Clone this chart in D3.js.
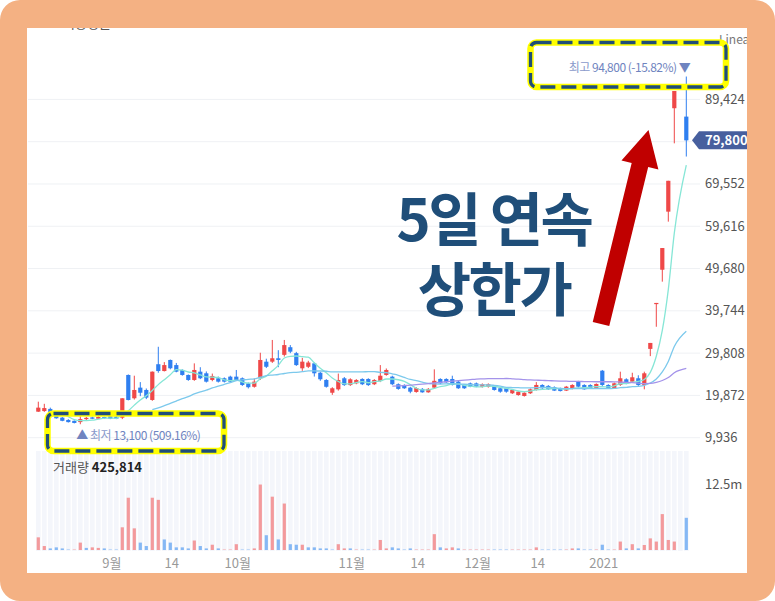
<!DOCTYPE html>
<html><head><meta charset="utf-8">
<script src="https://cdn.jsdelivr.net/npm/d3@7"></script>
<style>html,body{margin:0;padding:0;background:#fff;}svg{display:block;font-family:"Noto Sans CJK KR","Noto Sans",sans-serif;}</style>
</head><body><svg id="c" width="775" height="601"></svg>
<script>
// ---------- DATA ----------
const dates = [
"08-13","08-14","08-18","08-19","08-20","08-21","08-24","08-25","08-26","08-27","08-28","08-31",
"09-01","09-02","09-03","09-04","09-07","09-08","09-09","09-10","09-11","09-14","09-15","09-16","09-17","09-18","09-21","09-22","09-23","09-24","09-25","09-28","09-29",
"10-05","10-06","10-07","10-08","10-12","10-13","10-14","10-15","10-16","10-19","10-20","10-21","10-22","10-23","10-26","10-27","10-28","10-29","10-30",
"11-02","11-03","11-04","11-05","11-06","11-09","11-10","11-11","11-12","11-13","11-16","11-17","11-18","11-19","11-20","11-23","11-24","11-25","11-26","11-27","11-30",
"12-01","12-02","12-03","12-04","12-07","12-08","12-09","12-10","12-11","12-14","12-15","12-16","12-17","12-18","12-21","12-22","12-23","12-24","12-28","12-29","12-30",
"01-04","01-05","01-06","01-07","01-08","01-11","01-12","01-13","01-14","01-15","01-18","01-19","01-20","01-21","01-22"];
const opens = [16050,16200,16700,15400,14650,14100,13900,13600,14300,14700,
14400,14800,15000,14900,14640,24675,19200,21700,21150,18800,
27200,25600,28200,27000,25850,24675,23500,25450,25070,23500,
23900,23900,24280,24280,23900,22700,21900,23900,27800,27800,
28600,29400,31200,29800,26240,26600,27400,25200,23500,20500,
21300,23900,22300,22700,23735,23735,22500,23265,24675,24280,
22500,22300,21700,20680,21400,20600,21700,23735,23735,23735,
23100,22300,22700,22700,21850,21850,22150,21550,21550,20375,
19960,19740,20375,21150,22325,22100,21800,21550,21000,21550,
23100,22325,22325,21550,25680,22325,21550,22325,23660,23100,
23900,22325,30800,41600,49400,63050,87350,null,85380];
const highs = [18400,17900,17000,15600,14800,14300,14000,15000,14800,14900,
15000,14900,15200,15100,19200,24800,24500,23000,21500,25500,
31300,27700,28300,27500,26000,24800,27400,26500,25500,25000,
24300,24100,24500,25850,24100,22900,23800,29900,28500,32900,
30500,32900,31700,30100,28700,28000,27600,25400,23700,21800,
25000,24200,23900,23700,23900,23900,23700,27000,26200,24500,
22700,22500,21900,21800,21600,21600,26000,23900,23900,24500,
23300,22500,22900,22900,22700,22700,22300,21700,21700,21300,
20900,20600,21500,23000,22500,22300,22000,21700,22100,22500,
23300,22500,22500,22700,25850,22500,22900,25450,23900,25200,
24600,25450,32200,41600,54500,70300,91400,null,94800];
const lows = [16000,16000,15300,14400,13800,13500,13300,13100,14100,14300,
14300,14400,14300,14300,14300,18700,18900,19700,19000,18600,
25200,25500,26000,25300,24500,23300,23300,23700,22900,23200,
22900,22900,22900,23300,22100,21500,21700,23500,26300,27500,
26500,29000,29800,26800,25650,26300,24300,23300,21700,20000,
21000,22100,22100,22500,22300,22100,22300,23000,24500,22300,
21200,21400,20375,20500,20500,20500,21500,22500,22800,22200,
21400,21400,21800,21800,21700,21700,21000,20500,20500,20200,
19800,19600,20200,21000,21400,21200,20900,20800,20900,21300,
21700,21200,21400,21400,22100,21400,21400,22100,22500,22900,
22100,21300,29100,36000,46600,60700,79100,null,76000];
const closes = [17000,16900,15500,14500,13900,13600,13400,14300,14600,14400,
14800,14500,14400,14400,19200,18800,21150,20500,19350,25450,
25600,27000,26250,25450,24675,23500,25850,23900,23100,24440,
23100,23100,23100,23500,22325,21800,23100,28200,26600,28600,
28200,31700,30150,27000,27800,27600,25070,23660,21900,21550,
23500,22300,23660,23500,22500,22300,23500,24500,25850,22500,
21400,21550,20750,21600,20600,21400,23300,22700,22950,22325,
21550,21550,21930,21930,22500,22500,21150,20750,20750,21150,
20740,20500,21300,22325,21550,21300,21000,20900,21930,22325,
21930,21300,21550,22560,22325,21550,22720,23900,22700,24130,
22325,25070,32200,41600,54500,70300,91400,null,79800];
// volume in millions of shares
const volumes = [2.4,0.75,0.3,0.5,0.3,0.2,0.2,1.4,0.4,0.5,
0.4,0.3,0.2,0.2,4.3,9.9,4.1,1.4,0.75,9.9,
9.5,2.0,1.4,0.5,0.5,0.3,1.8,0.75,0.3,1.0,
0.3,0.2,0.2,1.1,0.2,0.2,0.3,12.4,2.8,10.1,
2.0,8.8,1.1,1.0,1.0,0.5,0.5,0.3,0.3,0.2,
1.1,0.3,0.3,0.2,0.2,0.2,0.2,1.9,0.3,0.5,
0.3,0.15,0.3,0.15,0.15,0.15,3.0,0.5,0.3,0.5,
0.3,0.15,0.15,0.15,0.12,0.12,0.12,0.12,0.12,0.12,
0.12,0.15,0.15,0.5,0.12,0.12,0.12,0.12,0.15,0.3,
0.3,0.12,0.12,0.12,1.0,0.15,0.15,1.6,0.3,1.1,
0.3,0.95,2.2,1.6,6.8,1.9,1.6,null,6.1];
// volume bar direction as shown in the volume panel (1 = red/up, 0 = blue/down)
const volumeUp = [1,1,0,0,0,0,1,1,0,1,
1,0,0,0,1,1,1,0,0,1,
1,0,0,0,0,0,1,0,0,1,
0,1,1,1,0,0,1,1,0,1,
0,1,0,0,1,0,0,0,0,0,
1,1,0,1,0,0,1,1,1,0,
0,0,0,1,1,1,1,0,1,1,
0,1,1,1,1,1,0,0,0,1,
1,1,1,1,0,0,0,0,1,1,
0,0,0,1,0,0,1,1,0,1,
0,1,1,1,1,1,1,0,0];
const priceTicks = [9936,19872,29808,39744,49680,59616,69552,79488,89424];
const volumeTicks = [12.5];
const volumeTickLabels = ["12.5m"];
const tickDates = ["09-01","09-15","10-05","11-02","11-17","12-01","12-15","01-04"];
const tickLabels = ["9월","14","10월","11월","14","12월","14","2021"];
const maPeriods = [5,20,60];
const maColors = ["#86e6d6","#7cc9ec","#a493ea"];
const legendLabels = ["5","20","60","120"];
const legendColors = ["#5ccfc0","#4fb4d8","#8a6fe0","#f08a7a"];
const volumeLabel = "거래량", volumeValue = "425,814";
const headline = ["5일 연속","상한가"];

// ---------- STYLE ----------
const RED="#ef4848", BLUE="#2f7ff0", RED_V="#f39a9c", BLUE_V="#86b8f4";

const svg = d3.select("#c");
svg.append("rect").attr("width",775).attr("height",601).attr("fill","#fff");

const x = d3.scaleBand().domain(dates).range([35.3, 689.3]);
const cx = d => x(d) + x.bandwidth()/2;
const y = d3.scaleLinear().domain([9936, 89424]).range([437.7, 99.4]);
const yv = d3.scaleLinear().domain([0, 12.5]).range([550, 484]);

// MA legend (mostly hidden under frame)
const lg = svg.append("text").attr("x",63).attr("y",27.6).attr("font-size",13).attr("fill","#555");
lg.append("tspan").text("이동평균 ");
legendLabels.forEach((t,i)=>lg.append("tspan").attr("fill",legendColors[i]).text(t+" "));
svg.append("text").attr("x",719).attr("y",44).attr("font-size",12).attr("fill","#777").text("Linear");

const rows = dates.map((d,i)=>({d,i,o:opens[i],h:highs[i],l:lows[i],c:closes[i],v:volumes[i],up:volumeUp[i]}));
const valid = rows.filter(r=>r.c!=null);
const last = valid[valid.length-1];
const ty = y(last.c);

// grid
svg.append("g").selectAll("line").data(priceTicks).join("line")
  .attr("x1",28).attr("x2",700).attr("y1",d=>y(d)).attr("y2",d=>y(d))
  .attr("stroke","#eff1f4").attr("stroke-width",1);

// price axis labels (the one under the current-price tag is hidden)
svg.append("g").selectAll("text").data(priceTicks.filter(t=>Math.abs(y(t)-ty)>12)).join("text")
  .attr("x",705).attr("y",d=>y(d)+4.5).attr("font-size",13).attr("fill","#555")
  .text(d=>d3.format(",")(d));

// volume background stripes
svg.append("g").selectAll("rect").data(rows).join("rect")
  .attr("x",r=>x(r.d)+0.7).attr("width",x.bandwidth()-1.4)
  .attr("y",451).attr("height",100).attr("fill","#f4f6fb");

// volume bars
svg.append("g").selectAll("rect").data(valid).join("rect")
  .attr("x",r=>cx(r.d)-1.6).attr("width",3.2)
  .attr("y",r=>Math.min(yv(r.v), 549)).attr("height",r=>Math.max(550-yv(r.v),1))
  .attr("fill",r=>r.up?RED_V:BLUE_V)
  .attr("opacity",r=>r.v<0.25?0.45:1);

svg.append("g").selectAll("text").data(volumeTicks).join("text")
  .attr("x",705).attr("y",d=>yv(d)+4.5).attr("font-size",13).attr("fill","#555")
  .text((d,i)=>volumeTickLabels[i]);

const vt = svg.append("text").attr("x",53).attr("y",471.5).attr("font-size",13).attr("fill","#555");
vt.append("tspan").text(volumeLabel+" ");
vt.append("tspan").attr("fill","#222").attr("font-weight","bold").text(volumeValue);

// x axis labels
svg.append("g").selectAll("text").data(tickDates).join("text")
  .attr("x",d=>cx(d)+1.5).attr("y",567.5).attr("text-anchor","middle")
  .attr("font-size",13).attr("fill","#999").text((d,i)=>tickLabels[i]);

// candles
const cg = svg.append("g");
cg.selectAll("line").data(valid).join("line")
  .attr("x1",r=>cx(r.d)).attr("x2",r=>cx(r.d))
  .attr("y1",r=>y(r.h)).attr("y2",r=>y(r.l))
  .attr("stroke",r=>r.c>=r.o?RED:BLUE).attr("stroke-width",1);
cg.selectAll("rect").data(valid).join("rect")
  .attr("x",r=>cx(r.d)-2.1).attr("width",4.2)
  .attr("y",r=>y(Math.max(r.o,r.c)))
  .attr("height",r=>Math.max(Math.abs(y(r.o)-y(r.c)),1.2))
  .attr("fill",r=>r.c>=r.o?RED:BLUE);

// moving averages over n trading slots (a halted day has no close)
function movingAvg(n){
  const out=[];
  rows.forEach((r,i)=>{
    if(r.c==null || i<n-1) return;
    out.push({d:r.d, v:d3.mean(closes.slice(i-n+1,i+1))});
  });
  return out;
}
const line = d3.line().x(p=>cx(p.d)).y(p=>y(p.v)).curve(d3.curveMonotoneX);
maPeriods.forEach((n,k)=>{
  svg.append("path").datum(movingAvg(n)).attr("d",line)
    .attr("fill","none").attr("stroke",maColors[k]).attr("stroke-width",1.3);
});

// current price tag
svg.append("path").attr("d",`M692,${ty} L699,${ty-9} H750 V${ty+9} H699 Z`).attr("fill","#475f9e");
svg.append("text").attr("x",705).attr("y",ty+4.6).attr("font-size",13).attr("font-weight","bold")
  .attr("fill","#fff").text(d3.format(",")(last.c));

// high / low annotations
const hiRow = valid.reduce((a,b)=>b.h>a.h?b:a);
const loRow = valid.reduce((a,b)=>b.l<a.l?b:a);
function box(x0,y0,w,h){
  svg.append("rect").attr("x",x0).attr("y",y0).attr("width",w).attr("height",h).attr("rx",6)
    .attr("fill","none").attr("stroke","#ffff00").attr("stroke-width",6.5);
  svg.append("rect").attr("x",x0).attr("y",y0).attr("width",w).attr("height",h).attr("rx",6)
    .attr("fill","none").attr("stroke","#1f4e79").attr("stroke-width",3.3).attr("stroke-dasharray","15 6");
}
box(530.5,42.5,195.5,44.5);
box(47.5,413.5,176.5,37.5);
const hiPct = ((last.c/hiRow.h-1)*100).toFixed(2);
const loPct = ((last.c/loRow.l-1)*100).toFixed(2);
const ht = svg.append("text").attr("x",cx(hiRow.d)+4).attr("y",72).attr("text-anchor","end")
  .attr("font-size",12).attr("letter-spacing",-0.5).attr("fill","#6f84c0");
ht.append("tspan").attr("fill","#8a9acb").text("최고 ");
ht.append("tspan").text(`${d3.format(",")(hiRow.h)} (${hiPct}%) ▼`);
const lt = svg.append("text").attr("x",cx(loRow.d)-4).attr("y",440)
  .attr("font-size",12).attr("letter-spacing",-0.5).attr("fill","#6f84c0");
lt.append("tspan").text("▲ ");
lt.append("tspan").attr("fill","#8a9acb").text("최저 ");
lt.append("tspan").text(`${d3.format(",")(loRow.l)} (${loPct}%)`);

// headline (one wrapped text block)
const hl = svg.append("text").attr("text-anchor","middle")
  .attr("font-size",58).attr("font-weight","bold").attr("letter-spacing",-2.5).attr("fill","#1f4e79");
headline.forEach((t,i)=>hl.append("tspan").attr("x",494).attr("y",[241,311][i]).text(t));

// arrow
(function(){
  const T=[601,324], P=[648.5,130];
  const L=Math.hypot(P[0]-T[0],P[1]-T[1]);
  const u=[(P[0]-T[0])/L,(P[1]-T[1])/L], n=[-u[1],u[0]];
  const B=[P[0]-36*u[0],P[1]-36*u[1]];
  const pt=(p,k)=>[p[0]+k*n[0],p[1]+k*n[1]];
  const pts=[pt(T,-8.5),pt(B,-8.5),pt(B,-19),P,pt(B,19),pt(B,8.5),pt(T,8.5)];
  svg.append("path").attr("d","M"+pts.map(p=>p.join(",")).join("L")+"Z").attr("fill","#c00000");
})();

// frame
svg.append("path").attr("fill-rule","evenodd").attr("fill","#f4b183")
  .attr("d","M20,0 H755 A20,20 0 0 1 775,20 V581 A20,20 0 0 1 755,601 H20 A20,20 0 0 1 0,581 V20 A20,20 0 0 1 20,0 Z M27,28 H747 V573 H27 Z");
</script></body></html>
